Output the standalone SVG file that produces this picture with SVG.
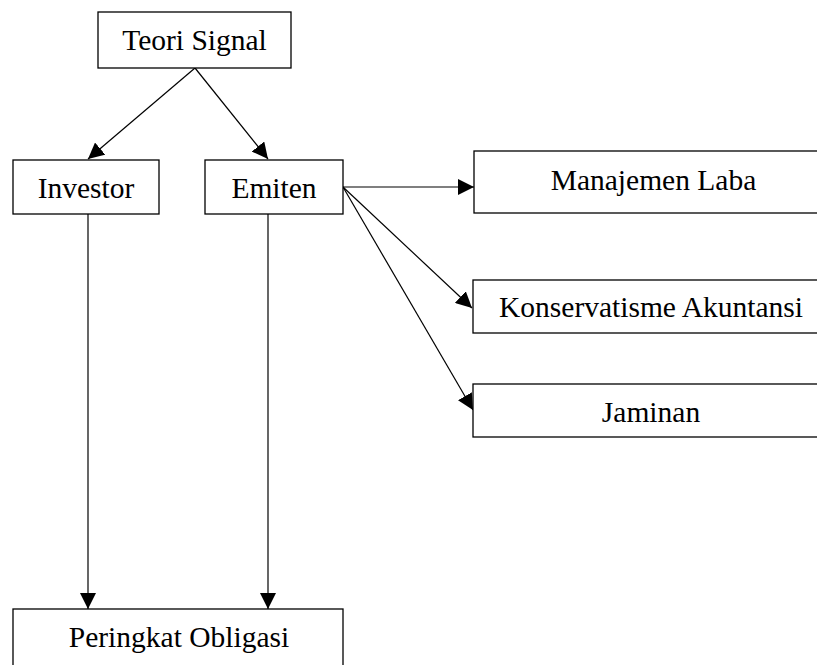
<svg xmlns="http://www.w3.org/2000/svg" width="817" height="665" viewBox="0 0 817 665">
<style>
.box{fill:#fff;stroke:#000;stroke-width:1.3}
.lbl{font-family:"Liberation Serif","Times New Roman",serif;font-size:29.5px;fill:#000;text-anchor:middle}
.cn{stroke:#000;stroke-width:1.2;fill:none;marker-end:url(#ah)}
</style>
<defs>
<marker id="ah" markerUnits="userSpaceOnUse" markerWidth="16" markerHeight="16" refX="16" refY="8" orient="auto" viewBox="0 0 16 16">
<path d="M0,0 L16,8 L0,16 z" fill="#000"/>
</marker>
</defs>
<rect width="817" height="665" fill="#fff"/>
<g id="connectors">
<line class="cn" x1="195" y1="68" x2="88" y2="159"/>
<line class="cn" x1="195" y1="68" x2="268" y2="159"/>
<line class="cn" x1="88" y1="214" x2="88" y2="609"/>
<line class="cn" x1="268" y1="214" x2="268" y2="609"/>
<line class="cn" x1="343" y1="187" x2="474" y2="187"/>
<line class="cn" x1="343" y1="187" x2="472" y2="308"/>
<line class="cn" x1="343" y1="187" x2="473" y2="410"/>
</g>
<g id="teori-signal">
<rect class="box" x="98" y="12" width="193" height="56"/>
<text class="lbl" x="194.5" y="50">Teori Signal</text>
</g>
<g id="investor">
<rect class="box" x="13" y="160" width="146" height="54"/>
<text class="lbl" x="86" y="198">Investor</text>
</g>
<g id="emiten">
<rect class="box" x="205" y="160" width="138" height="54"/>
<text class="lbl" x="274" y="198">Emiten</text>
</g>
<g id="manajemen-laba">
<rect class="box" x="474" y="151" width="360" height="62"/>
<text class="lbl" x="653.5" y="190">Manajemen Laba</text>
</g>
<g id="konservatisme-akuntansi">
<rect class="box" x="473" y="280" width="360" height="53"/>
<text class="lbl" x="651" y="317">Konservatisme Akuntansi</text>
</g>
<g id="jaminan">
<rect class="box" x="473" y="384" width="360" height="53"/>
<text class="lbl" x="651" y="422">Jaminan</text>
</g>
<g id="peringkat-obligasi">
<rect class="box" x="13" y="609" width="330" height="70"/>
<text class="lbl" x="179" y="647">Peringkat Obligasi</text>
</g>
</svg>
